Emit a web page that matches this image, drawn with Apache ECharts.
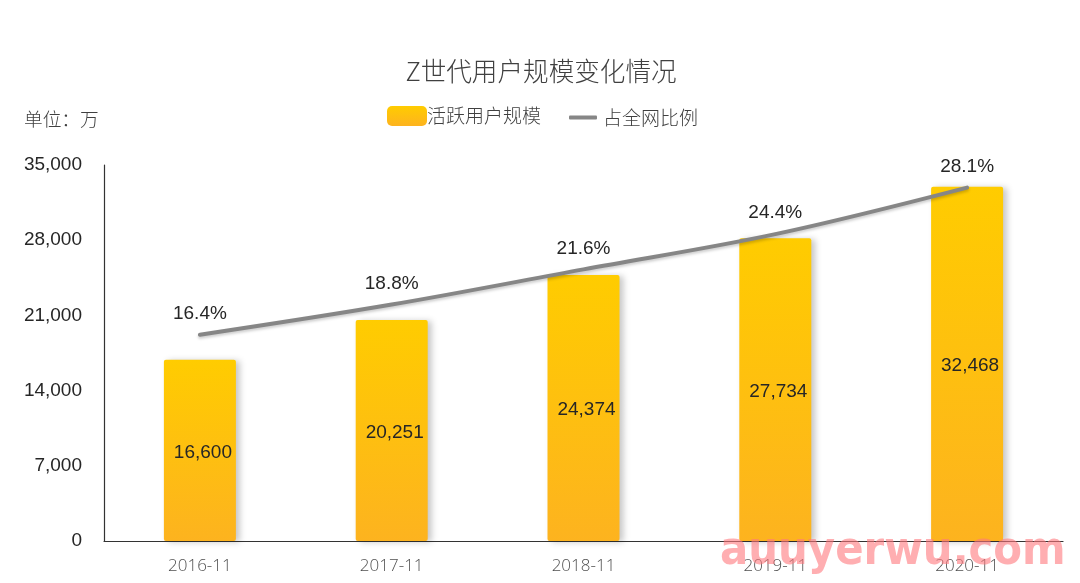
<!DOCTYPE html>
<html><head><meta charset="utf-8">
<style>html,body{margin:0;padding:0;background:#fff}#c{width:1080px;height:583px}</style>
<script src="https://cdn.jsdelivr.net/npm/echarts@6/dist/echarts.min.js"></script>
</head><body><div id="c"></div>
<script>
const categories = ['2016-11','2017-11','2018-11','2019-11','2020-11'];
const activeUsers = [16600,20251,24374,27734,32468];
const sharePct = [16.4,18.8,21.6,24.4,28.1];
const titleText = 'Z世代用户规模变化情况';
const unitText = '单位\uFF1A万';
const barName = '活跃用户规模';
const lineName = '占全网比例';
const watermark = 'auuyerwu.com';
const CJK = '"Noto Sans CJK SC","Noto Sans",sans-serif';
const NUM = '"Liberation Sans",Arial,sans-serif';
const chart = echarts.init(document.getElementById('c'),null,{renderer:'canvas'});
const grad = new echarts.graphic.LinearGradient(0,0,0,1,[{offset:0,color:'#FFCC00'},{offset:1,color:'#FDB31F'}]);
chart.setOption({
  animation:false,
  backgroundColor:'#fff',
  title:[
    {text:titleText,left:536,top:53,textAlign:'center',textStyle:{fontFamily:CJK,fontSize:25.6,fontWeight:300,color:'#404040'}},
    {text:unitText,left:24,top:110,padding:0,textStyle:{fontFamily:CJK,fontSize:18.7,fontWeight:300,color:'#404040'}}
  ],
  legend:[
    {data:[barName],left:387,top:106,padding:0,itemWidth:40,itemHeight:20,itemGap:0,
     textStyle:{fontFamily:CJK,fontSize:19,fontWeight:300,color:'#404040',padding:[4,0,0,-5]}},
    {data:[{name:lineName,icon:'roundRect'}],left:569,top:108,padding:0,itemWidth:28,itemHeight:4,itemGap:0,
     textStyle:{fontFamily:CJK,fontSize:19,fontWeight:300,color:'#404040',padding:[4,0,0,1]}}
  ],
  grid:{left:104,right:17,top:165,bottom:42},
  xAxis:{type:'category',data:categories,
    axisLine:{lineStyle:{color:'#333',width:1.2}},axisTick:{show:false},
    axisLabel:{fontFamily:'"Open Sans",sans-serif',fontSize:17,fontWeight:300,color:'#505050',margin:17}},
  yAxis:[
    {type:'value',min:0,max:35000,interval:7000,
     axisLine:{show:true,lineStyle:{color:'#333',width:1.2}},axisTick:{show:false},splitLine:{show:false},
     axisLabel:{fontFamily:NUM,fontSize:19,color:'#262626',margin:22,
       formatter:v=>v.toLocaleString('en-US')}},
    {type:'value',min:0,max:29.9,show:false,splitLine:{show:false}},
    {type:'value',min:0,max:34450,show:false,splitLine:{show:false}}
  ],
  series:[
    {name:barName,type:'bar',yAxisIndex:2,data:activeUsers,barWidth:72,z:2,
     itemStyle:{color:grad,borderRadius:2,shadowColor:'rgba(0,0,0,0.22)',shadowBlur:6,shadowOffsetX:4,shadowOffsetY:1},
     label:{show:true,position:'inside',offset:[3,2],fontFamily:NUM,fontSize:19,color:'#262626',
       formatter:p=>p.value.toLocaleString('en-US')}},
    {name:lineName,type:'line',yAxisIndex:1,data:sharePct,smooth:0.35,symbol:'circle',symbolSize:1,z:3,
     lineStyle:{color:'#868686',width:4,cap:'round',shadowColor:'rgba(0,0,0,0.2)',shadowBlur:3,shadowOffsetY:2},
     itemStyle:{color:'#868686'},
     label:{show:true,position:'top',distance:11,fontFamily:NUM,fontSize:19,color:'#262626',formatter:p=>p.value+'%'}}
  ],
  graphic:[{type:'text',left:720,top:529,z:100,silent:true,scaleX:0.91,
    style:{text:watermark,fontFamily:'"DejaVu Sans",sans-serif',fontWeight:'bold',fontSize:46,fill:'rgba(255,120,125,0.6)'}}]
});
</script></body></html>
